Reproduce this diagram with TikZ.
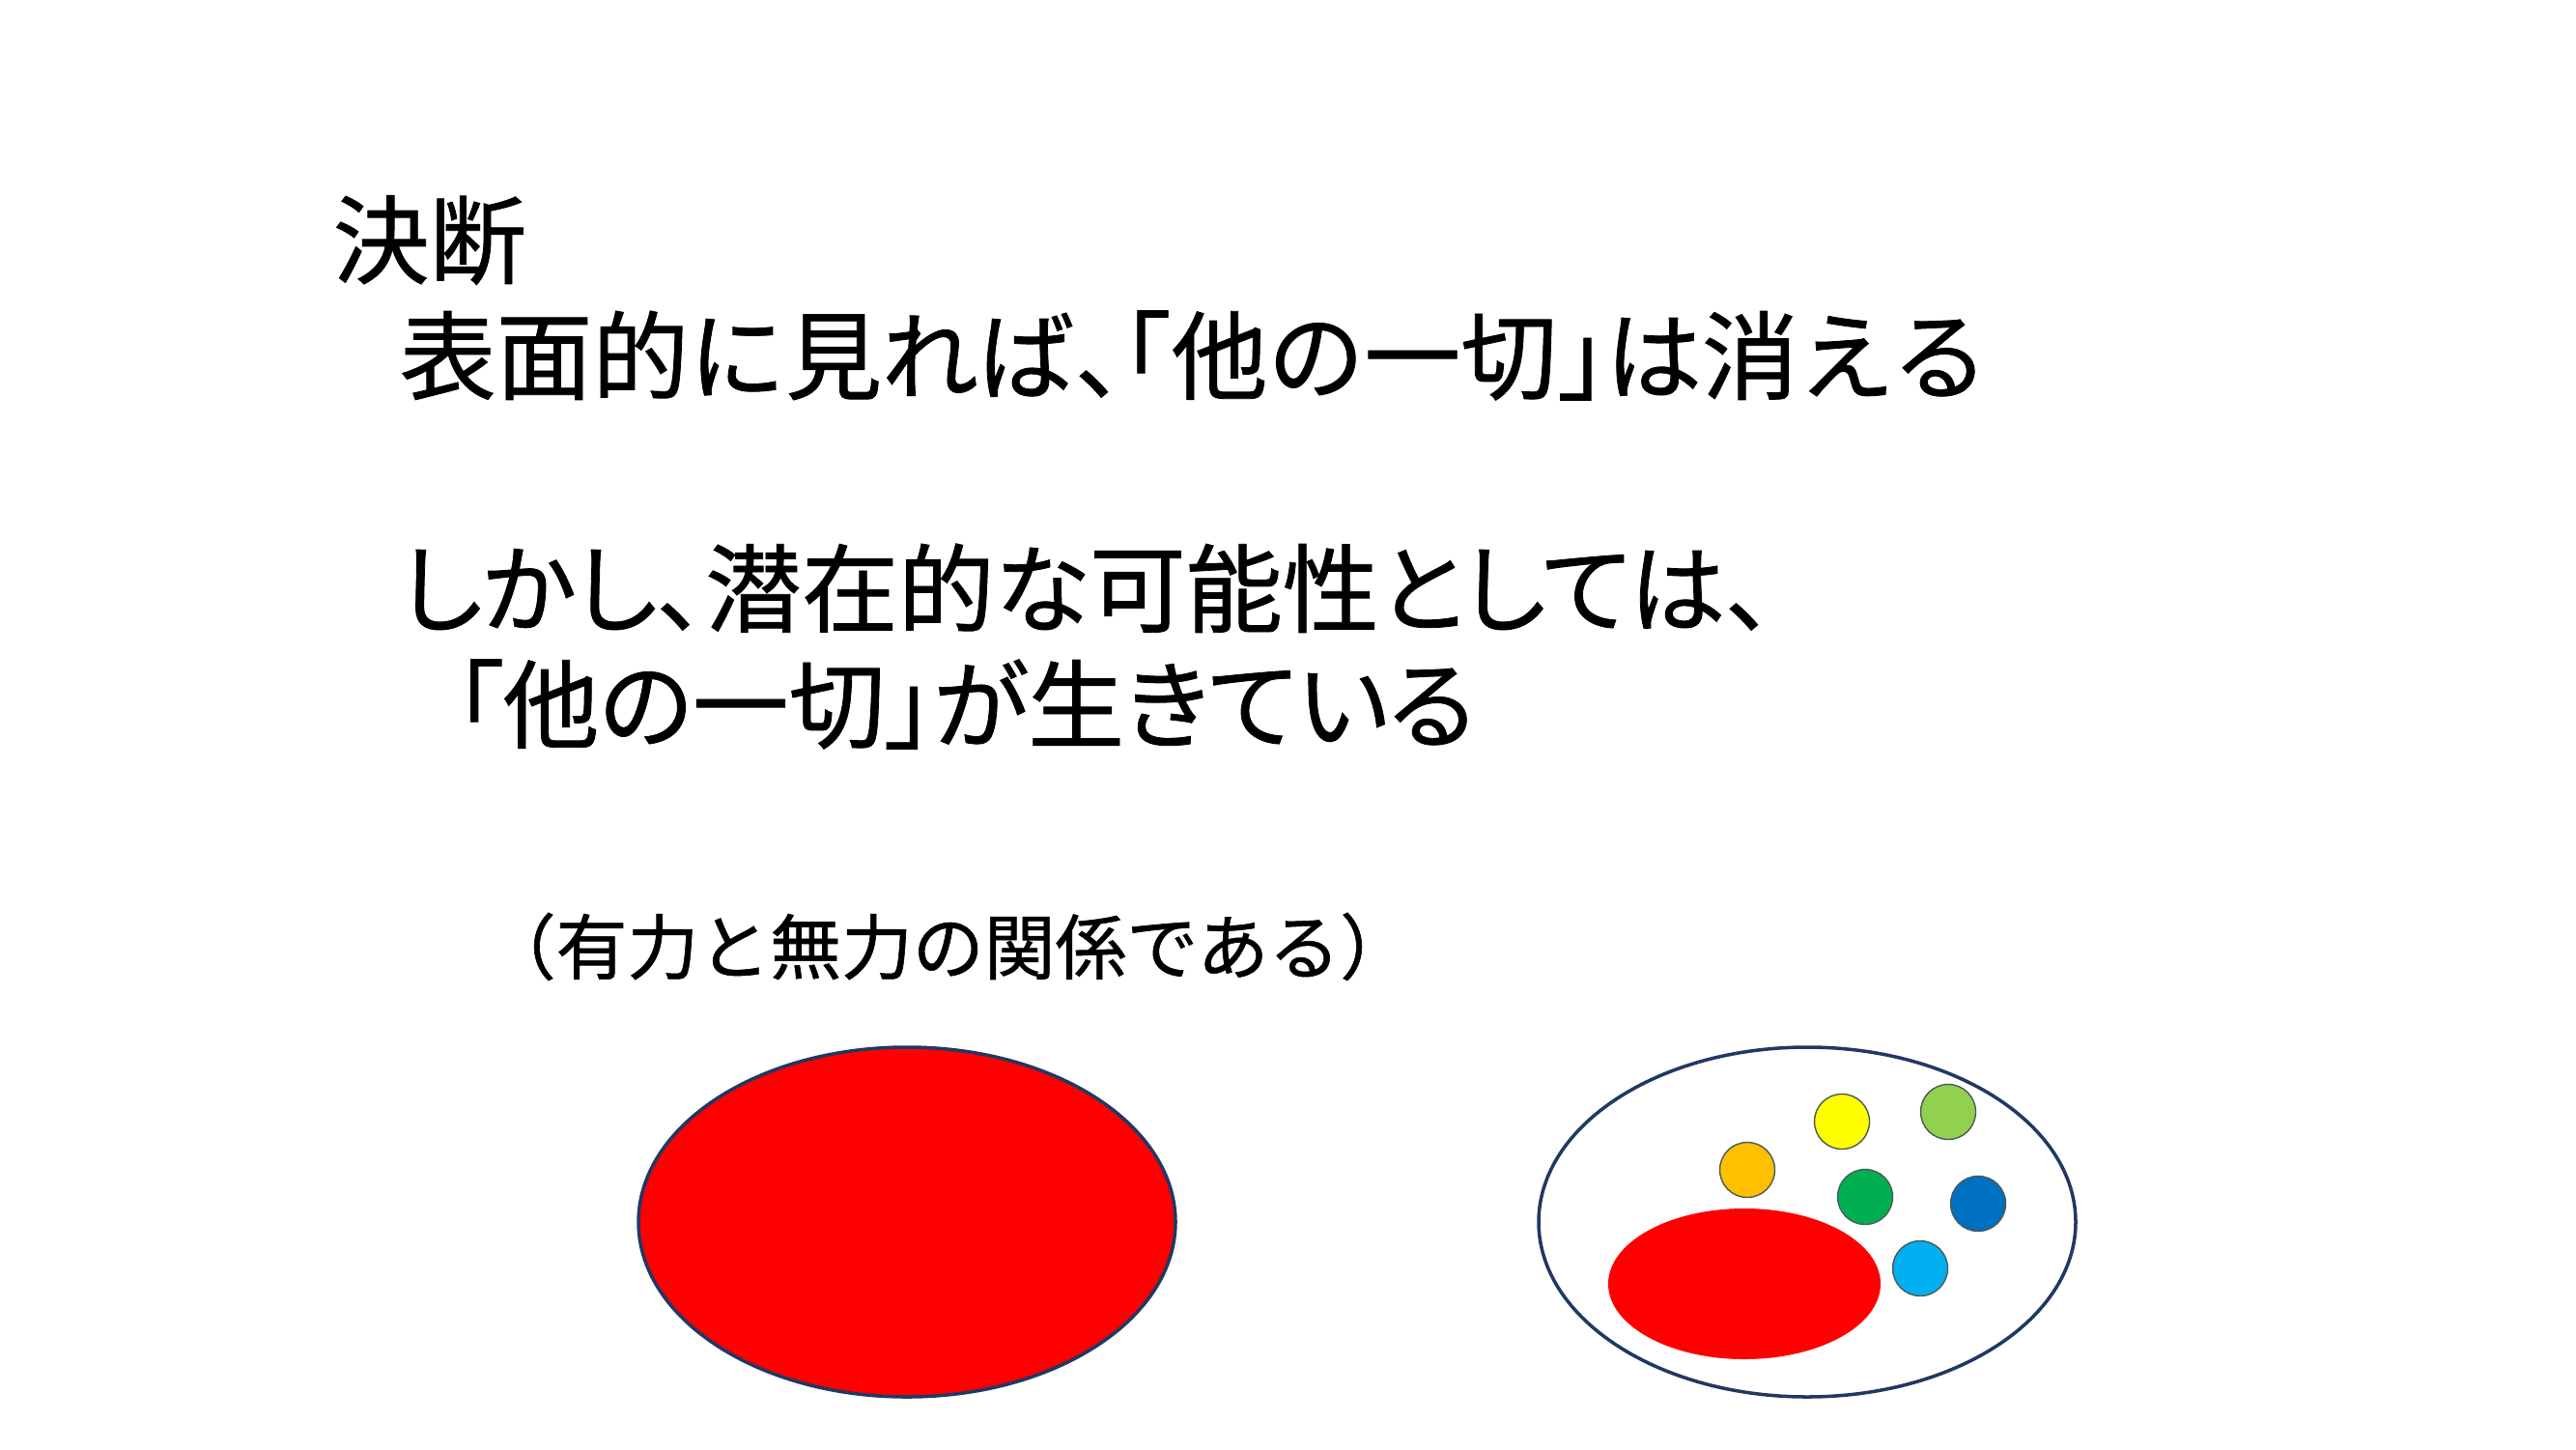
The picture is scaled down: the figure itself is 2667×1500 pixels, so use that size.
\documentclass[tikz,border=0pt]{standalone}
\usepackage{fontspec}
\newfontfamily\jpfont[RawFeature=+halt,FakeBold=0.8]{Noto Sans CJK JP}
\newfontfamily\jppfont[RawFeature=+palt,FakeBold=0.8]{Noto Sans CJK JP}
\definecolor{navy}{HTML}{203864}
\definecolor{cred}{HTML}{FF0000}
\definecolor{corange}{HTML}{FFC000}
\definecolor{cyellow}{HTML}{FFFF00}
\definecolor{clgreen}{HTML}{92D050}
\definecolor{cgreen}{HTML}{00B050}
\definecolor{cblue}{HTML}{0070C0}
\definecolor{ccyan}{HTML}{00B0F0}
\definecolor{dotline}{HTML}{4A5A5A}
\begin{document}
\begin{tikzpicture}[x=0.01cm,y=-0.01cm,
  bigtext/.style={anchor=base west,inner sep=0pt,font=\jpfont\fontsize{28.4pt}{32pt}\selectfont},
  bigptext/.style={anchor=base west,inner sep=0pt,font=\jppfont\fontsize{28.4pt}{32pt}\selectfont},
  smalltext/.style={anchor=base west,inner sep=0pt,font=\jpfont\fontsize{21pt}{26pt}\selectfont},
  bigoval/.style={draw=navy,line width=1pt},
  dotstyle/.style={draw=dotline,line width=0.4pt}]
\useasboundingbox[fill=white] (0,0) rectangle (2667,1500);
\node[bigtext] (t1) at (344,286) {決断};
\node[bigtext] (t2) at (413,406) {表面的に見れば、「他の一切」は消える};
\node[bigptext] (t3) at (414,647) {しかし、潜在的な可能性としては、};
\node[bigptext] (t4) at (470,767) {「他の一切」が生きている};
\node[smalltext] (t5) at (538,1008) {（有力と無力の関係である）};
\draw[bigoval,fill=cred] (939,1265) ellipse [x radius=278,y radius=181];
\draw[bigoval,fill=white] (1871,1265) ellipse [x radius=278,y radius=181];
\fill[cred] (1806,1329) ellipse [x radius=141,y radius=78];
\foreach \c/\x/\y in {corange/1809/1211, cyellow/1907/1161, clgreen/2017/1151,
  cgreen/1931/1239, cblue/2048/1246, ccyan/1988/1313}
  \draw[dotstyle,fill=\c] (\x,\y) circle [radius=28.5];
\end{tikzpicture}
\end{document}
